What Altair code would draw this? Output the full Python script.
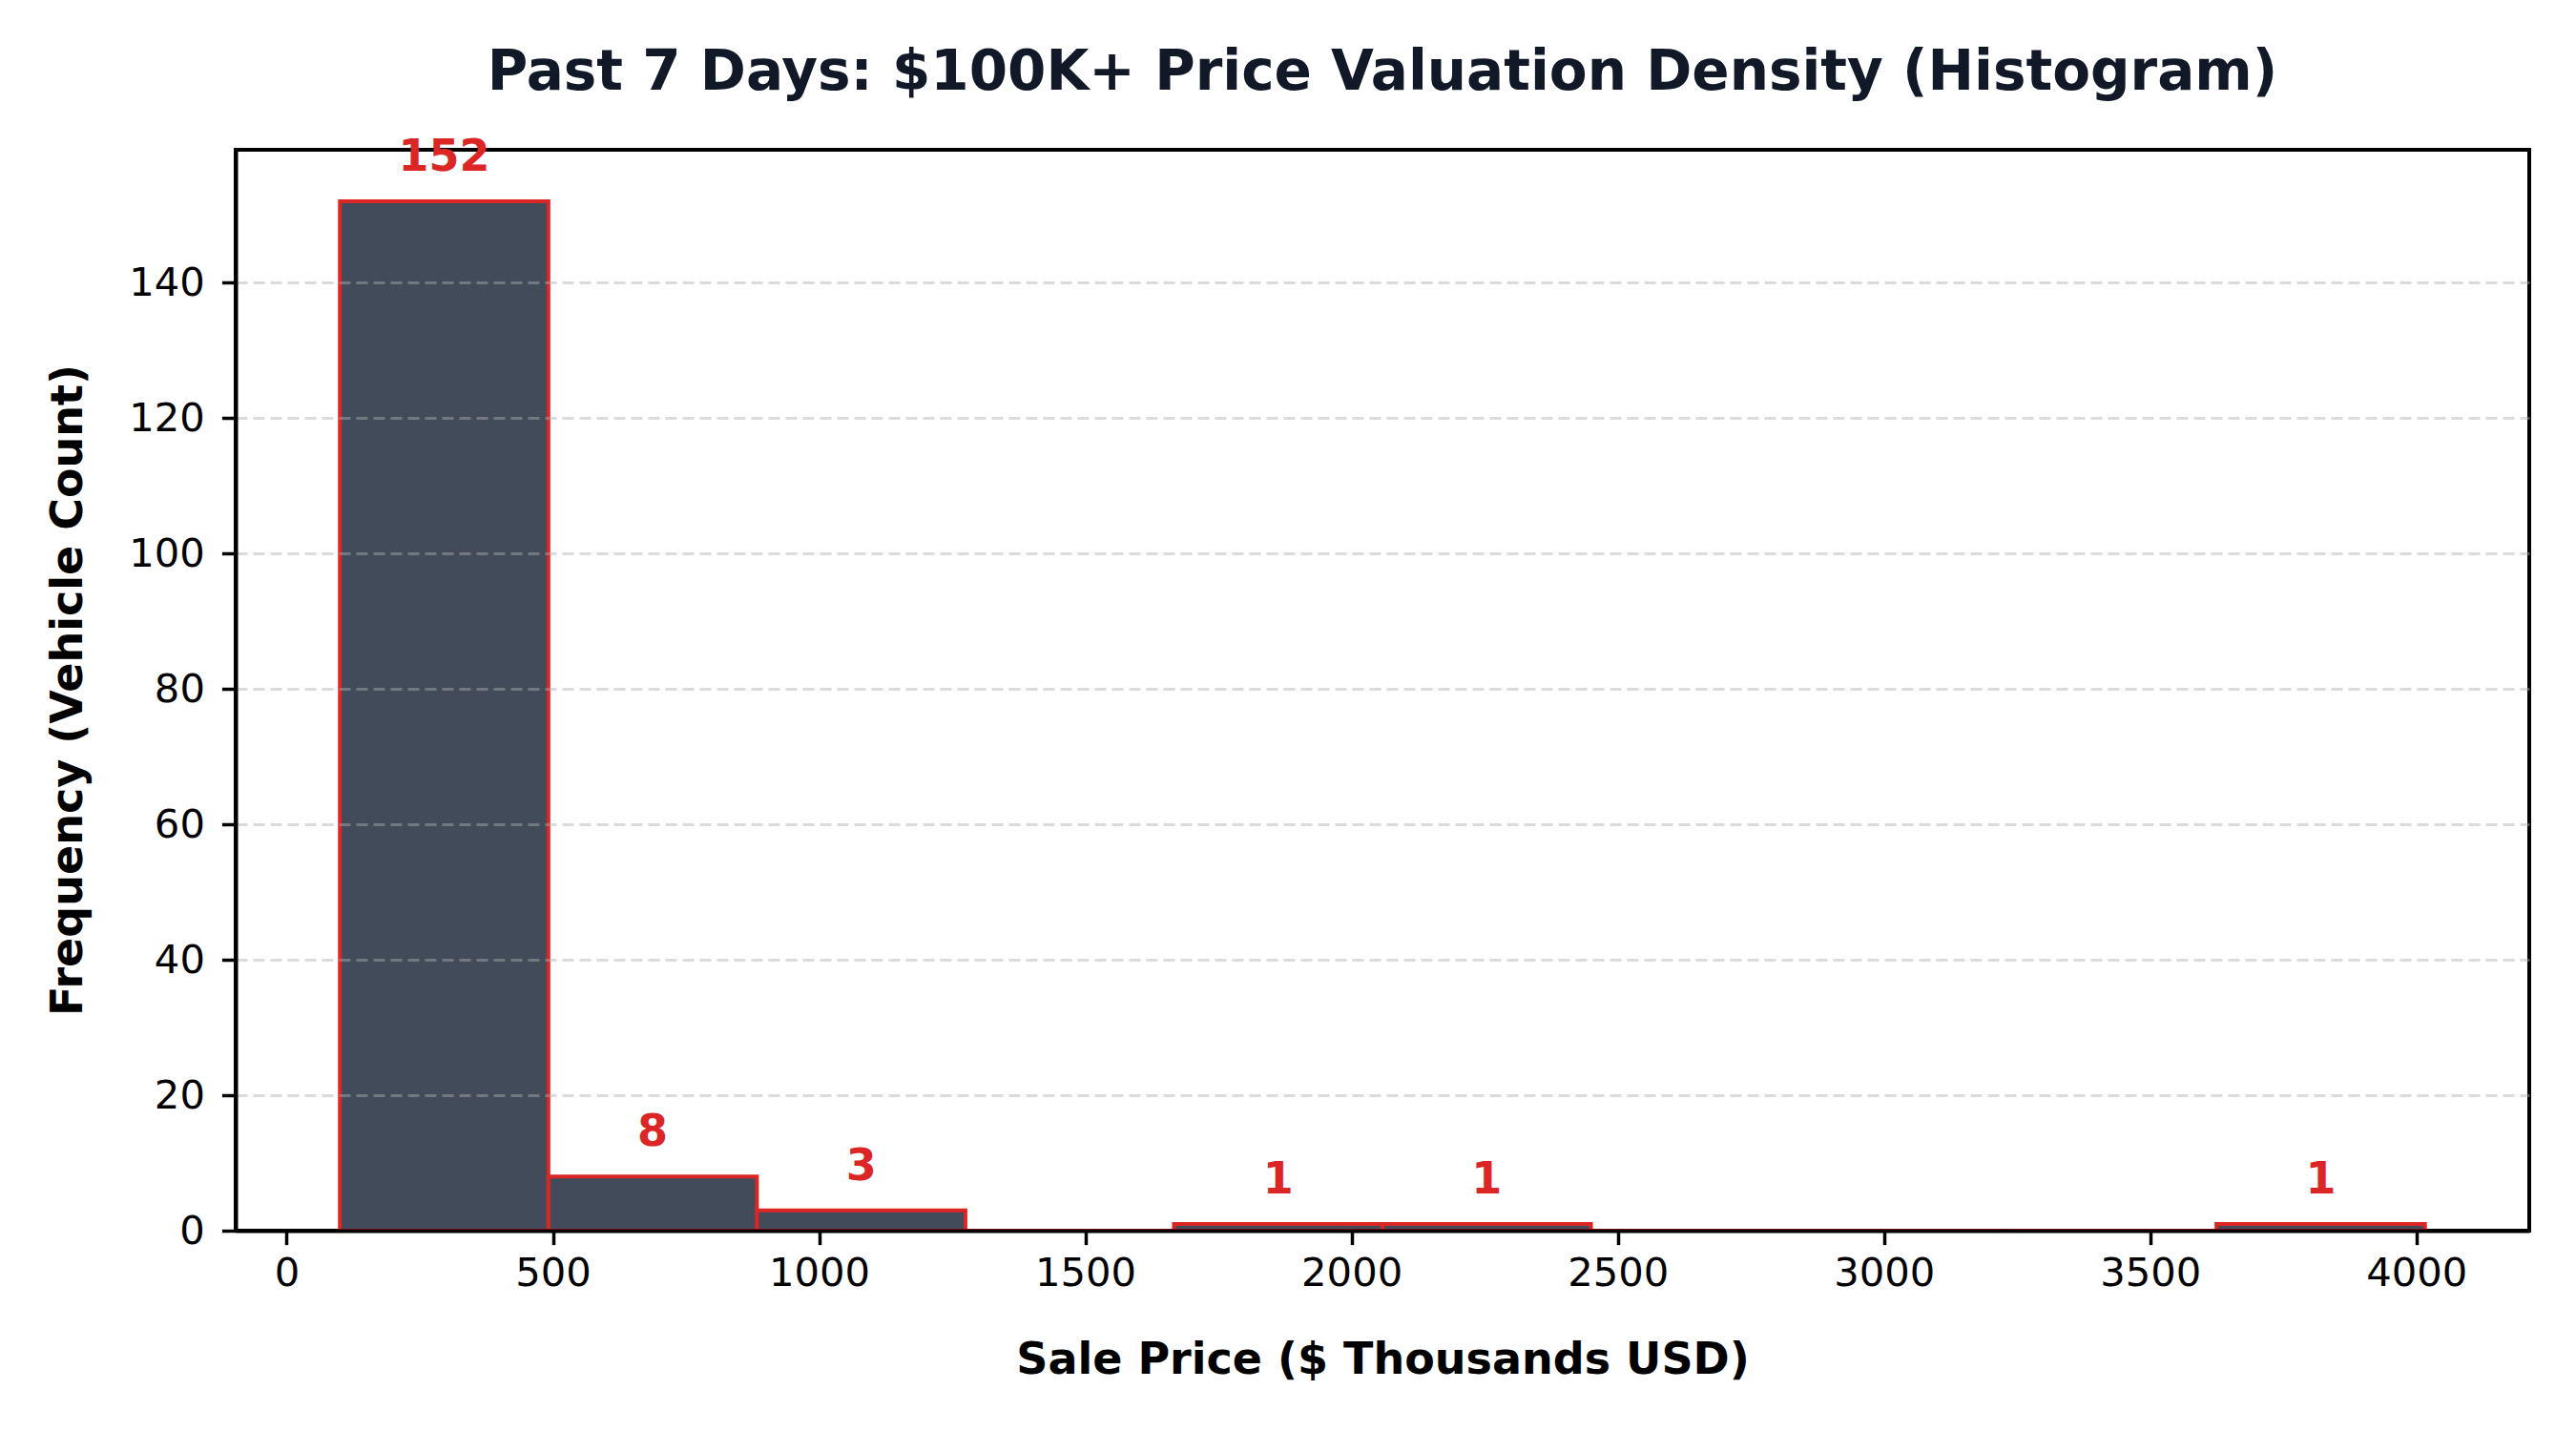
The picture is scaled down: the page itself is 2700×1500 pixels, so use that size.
import altair as alt
import pandas as pd

# histogram: 10 equal bins, $K
bin_edges = [100.0, 491.6, 883.2, 1274.8, 1666.4, 2058.0, 2449.6, 2841.2, 3232.8, 3624.4, 4016.0]
counts = [152, 8, 3, 0, 1, 1, 0, 0, 0, 1]
x_ticks = [0, 500, 1000, 1500, 2000, 2500, 3000, 3500, 4000]
y_ticks = [0, 20, 40, 60, 80, 100, 120, 140]

df = pd.DataFrame({
    "start": bin_edges[:-1],
    "end": bin_edges[1:],
    "count": counts,
})

FONT = "DejaVu Sans"
RED = "#dc2626"

base = alt.Chart(df)

bars = base.mark_rect(
    fill="#374151", fillOpacity=0.95, stroke=RED, strokeWidth=4
).encode(
    x=alt.X(
        "start:Q",
        scale=alt.Scale(domain=[-95.8, 4211.8], nice=False, zero=False),
        axis=alt.Axis(
            values=x_ticks, format="d", title="Sale Price ($ Thousands USD)", grid=False,
            titleX=1202, titleY=149, titleBaseline="alphabetic", titleAnchor="middle",
            labelPadding=10, zindex=2,
        ),
    ),
    x2="end:Q",
    y=alt.Y(
        "count:Q",
        scale=alt.Scale(domain=[0, 159.6], nice=False),
        axis=alt.Axis(
            values=y_ticks, title="Frequency (Vehicle Count)", grid=True,
            gridDash=[12, 6], gridColor="#b0b0b0", gridOpacity=0.45, gridWidth=3,
            titleX=-162, titleY=566, titleAngle=270, titleBaseline="alphabetic",
            titleAlign="center", labelPadding=18, zindex=1,
        ),
    ),
    y2=alt.datum(0),
)

labels = base.transform_filter("datum.count > 0").transform_calculate(
    mid="(datum.start + datum.end) / 2"
).mark_text(
    font=FONT, fontSize=46, fontWeight="bold", color=RED,
    baseline="alphabetic", align="center", dy=-32,
).encode(
    x="mid:Q",
    y="count:Q",
    text="count:Q",
)

chart = (
    alt.layer(bars, labels)
    .properties(
        width=2404,
        height=1133,
        autosize=alt.AutoSizeParams(type="none"),
        padding={"left": 239, "top": 149, "right": 41, "bottom": 202},
        title=alt.TitleParams(
            "Past 7 Days: $100K+ Price Valuation Density (Histogram)",
            font=FONT, fontSize=58, fontWeight="bold", color="#111827",
            anchor="middle", frame="group", offset=36,
        ),
    )
    .configure_view(stroke="black", strokeWidth=4)
    .configure_axis(
        labelFont=FONT, labelFontSize=41.7, labelColor="black",
        titleFont=FONT, titleFontSize=46, titleFontWeight="bold", titleColor="black",
        domainColor="black", domainWidth=4,
        tickColor="black", tickWidth=3.5, tickSize=14.6,
    )
)

chart.save("out.html", embed_options={"renderer": "svg", "actions": False})
